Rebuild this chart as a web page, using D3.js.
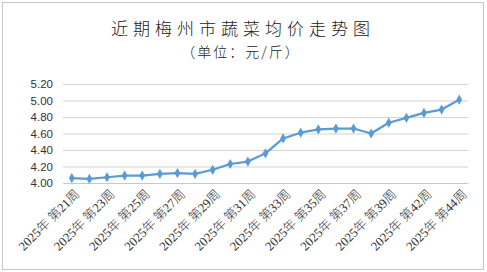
<!DOCTYPE html>
<html>
<head>
<meta charset="utf-8">
<script src="https://cdn.jsdelivr.net/npm/d3@7"></script>
<style>
  body { margin: 0; background: #fff; }
  svg { display: block; }
</style>
</head>
<body>
<svg id="chart"></svg>
<script>
const width = 487
const height = 272

// weeks shown on the chart (week 40 has no data)
const weeks = ['2025年 第21周', '2025年 第22周', '2025年 第23周', '2025年 第24周', '2025年 第25周',
  '2025年 第26周', '2025年 第27周', '2025年 第28周', '2025年 第29周', '2025年 第30周',
  '2025年 第31周', '2025年 第32周', '2025年 第33周', '2025年 第34周', '2025年 第35周',
  '2025年 第36周', '2025年 第37周', '2025年 第38周', '2025年 第39周', '2025年 第41周',
  '2025年 第42周', '2025年 第43周', '2025年 第44周']
const prices = [4.06, 4.05, 4.07, 4.09, 4.09, 4.11, 4.12, 4.11, 4.16, 4.23,
  4.26, 4.36, 4.54, 4.61, 4.65, 4.66, 4.66, 4.60, 4.73, 4.79,
  4.85, 4.89, 5.01]
const yTicks = [4.0, 4.2, 4.4, 4.6, 4.8, 5.0, 5.2]

const margin = { left: 63, right: 19, top: 84, bottom: 89 }

const svg = d3.select('#chart')
    .attr('width', width)
    .attr('height', height)

// outer frame
svg.append('rect')
    .attr('x', 2.5).attr('y', 2.5)
    .attr('width', 481).attr('height', 267)
    .attr('fill', '#fff')
    .attr('stroke', '#c6c6c6')

svg.append('text')
    .attr('x', 243).attr('y', 35)
    .attr('text-anchor', 'middle')
    .style('font-family', '"Noto Sans CJK SC"')
    .style('font-size', '17px')
    .style('font-weight', 300)
    .style('letter-spacing', '5px')
    .attr('fill', '#222')
    .text('近期梅州市蔬菜均价走势图')

svg.append('text')
    .attr('x', 241).attr('y', 57)
    .attr('text-anchor', 'middle')
    .style('font-family', '"Noto Sans CJK SC"')
    .style('font-size', '14px')
    .style('font-weight', 300)
    .style('letter-spacing', '2px')
    .attr('fill', '#222')
    .text('（单位：元/斤）')

const x = d3.scalePoint()
    .domain(weeks)
    .range([margin.left, width - margin.right])
    .padding(0.5)

const y = d3.scaleLinear()
    .domain([4.0, 5.2])
    .range([height - margin.bottom, margin.top])

// gridlines + y labels
const yAxis = d3.axisLeft(y)
    .tickValues(yTicks)
    .tickFormat(d3.format('.2f'))
    .tickSize(-(width - margin.left - margin.right))
    .tickPadding(10)

const gy = svg.append('g')
    .attr('transform', `translate(${margin.left},0)`)
    .call(yAxis)
gy.select('.domain').remove()
gy.selectAll('line').attr('stroke', '#d4d4d4').attr('stroke-width', 1.2)
gy.selectAll('text')
    .style('font-family', '"Liberation Sans", Arial')
    .style('font-size', '11.5px')
    .attr('fill', '#333')

// x axis labels, every other week
const xAxis = d3.axisBottom(x)
    .tickValues(weeks.filter((d, i) => i % 2 === 0))
    .tickSize(0)
    .tickPadding(0)

const gx = svg.append('g')
    .attr('transform', `translate(0,${height - margin.bottom})`)
    .call(xAxis)
gx.select('.domain').attr('stroke', '#c8c8c8').attr('stroke-width', 1.2)
gx.selectAll('text')
    .style('font-family', '"Liberation Serif", "Noto Sans CJK SC"')
    .style('font-size', '12.8px')
    .style('font-weight', 300)
    .style('white-space', 'pre')
    .attr('fill', '#333')
    .attr('text-anchor', 'end')
    .attr('dy', 0)
    .attr('transform', 'translate(8,12) rotate(-45)')

const line = d3.line()
    .x((d, i) => x(weeks[i]))
    .y(d => y(d))

svg.append('path')
    .datum(prices)
    .attr('d', line)
    .attr('fill', 'none')
    .attr('stroke', '#5b9bd5')
    .attr('stroke-width', 2.2)
    .attr('stroke-linejoin', 'round')

svg.selectAll('.pt')
    .data(prices)
    .enter()
    .append('path')
    .attr('class', 'pt')
    .attr('d', d3.symbol().type(d3.symbolDiamond).size(30))
    .attr('transform', (d, i) => `translate(${x(weeks[i])},${y(d)})`)
    .attr('fill', '#5b9bd5')
</script>
</body>
</html>
